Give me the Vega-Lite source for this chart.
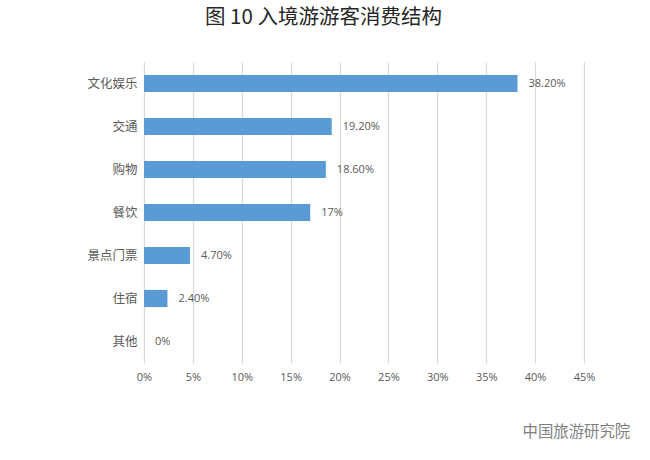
{
  "$schema": "https://vega.github.io/schema/vega-lite/v6.json",
  "width": 440,
  "height": 301,
  "autosize": "none",
  "padding": {"left": 144, "top": 62, "right": 66, "bottom": 97},
  "background": "white",
  "title": {
    "text": "图 10  入境游游客消费结构",
    "font": "Noto Sans CJK SC",
    "fontSize": 20.5,
    "fontWeight": "normal",
    "color": "#262626",
    "anchor": "start",
    "frame": "group",
    "dx": 61,
    "offset": 34
  },
  "data": {
    "values": [
      {"item": "文化娱乐", "share": 0.382, "label": "38.20%"},
      {"item": "交通", "share": 0.192, "label": "19.20%"},
      {"item": "购物", "share": 0.186, "label": "18.60%"},
      {"item": "餐饮", "share": 0.17, "label": "17%"},
      {"item": "景点门票", "share": 0.047, "label": "4.70%"},
      {"item": "住宿", "share": 0.024, "label": "2.40%"},
      {"item": "其他", "share": 0, "label": "0%"}
    ]
  },
  "encoding": {
    "y": {
      "field": "item",
      "type": "nominal",
      "sort": null,
      "scale": {"paddingInner": 0.6, "paddingOuter": 0.3},
      "axis": {
        "title": null,
        "domain": false,
        "ticks": false,
        "grid": false,
        "labelFont": "Noto Sans CJK SC",
        "labelFontSize": 12.5,
        "labelColor": "#595959",
        "labelPadding": 7
      }
    },
    "x": {
      "field": "share",
      "type": "quantitative",
      "scale": {"domain": [0, 0.45], "nice": false},
      "axis": {
        "values": [0, 0.05, 0.1, 0.15, 0.2, 0.25, 0.3, 0.35, 0.4, 0.45],
        "format": ".0%",
        "domain": false,
        "ticks": false,
        "grid": true,
        "gridColor": "#d9d9d9",
        "gridWidth": 1.2,
        "labelFlush": false,
        "labelFont": "Open Sans",
        "labelFontSize": 11,
        "labelColor": "#595959",
        "labelPadding": 8,
        "title": "中国旅游研究院",
        "titleFont": "Noto Sans CJK SC",
        "titleFontSize": 15.4,
        "titleFontWeight": "normal",
        "titleColor": "#7f7f7f",
        "titleAnchor": "start",
        "titleAlign": "left",
        "titleBaseline": "middle",
        "titleX": 378,
        "titleY": 68
      }
    }
  },
  "layer": [
    {"mark": {"type": "bar", "color": "#5b9bd5"}},
    {
      "mark": {
        "type": "text",
        "align": "left",
        "baseline": "middle",
        "dx": 11,
        "font": "Open Sans",
        "fontSize": 11,
        "color": "#595959"
      },
      "encoding": {"text": {"field": "label", "type": "nominal"}}
    }
  ],
  "config": {"view": {"stroke": null}}
}
